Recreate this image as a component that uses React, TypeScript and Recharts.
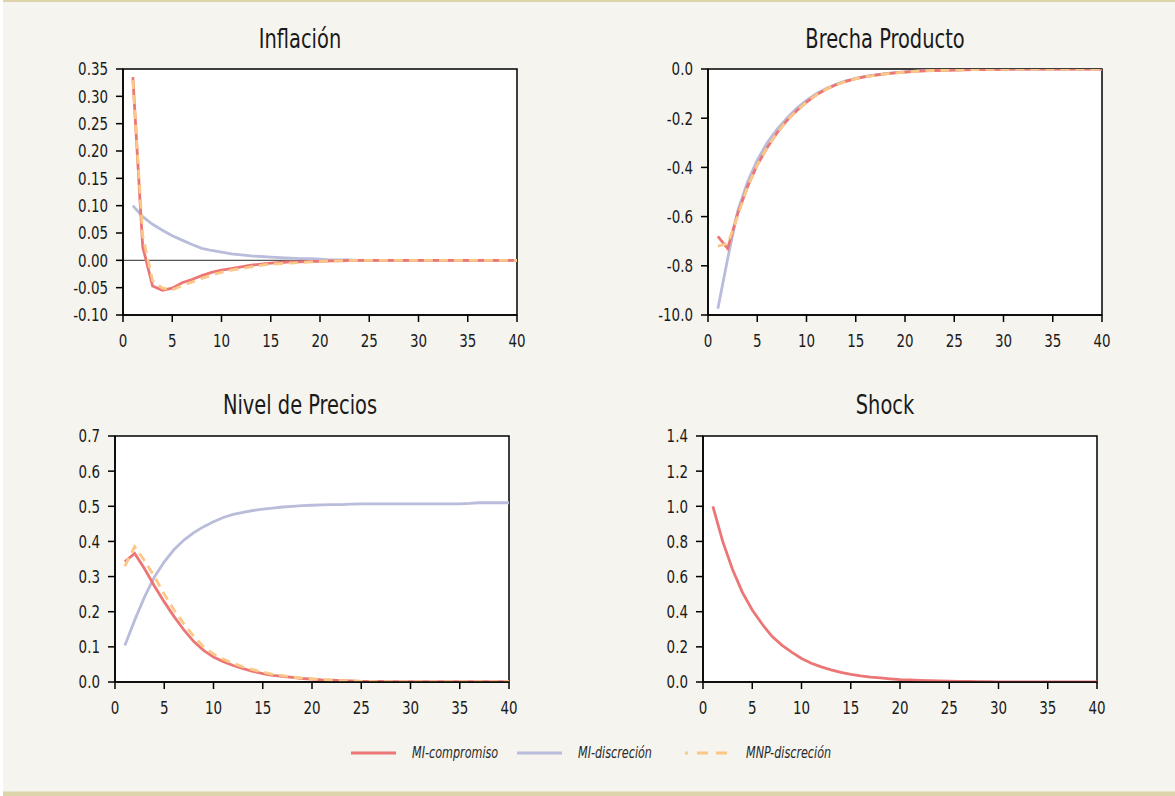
import React from 'react';
import { LineChart, Line, XAxis, YAxis, CartesianGrid, ReferenceLine, ReferenceArea } from 'recharts';

const FONT = "'DejaVu Sans Condensed', 'Noto Sans', sans-serif";
const RED = '#ec7676';
const BLUE = '#b9bcda';
const ORANGE = '#fbc887';
const SQUEEZE = 0.83;

// periods 1..40
const periods = [
  1, 2, 3, 4, 5, 6, 7, 8, 9, 10, 11, 12, 13, 14, 15, 16, 17, 18, 19, 20,
  21, 22, 23, 24, 25, 26, 27, 28, 29, 30, 31, 32, 33, 34, 35, 36, 37, 38, 39, 40,
];
const xTicks = [0, 5, 10, 15, 20, 25, 30, 35, 40];

// Inflación
const inflComp = [
  0.335, 0.025, -0.047, -0.055, -0.051, -0.041, -0.035, -0.028, -0.022, -0.018,
  -0.015, -0.012, -0.009, -0.007, -0.005, -0.004, -0.003, -0.003, -0.002, -0.002,
  -0.001, -0.001, 0, 0, 0, 0, 0, 0, 0, 0,
  0, 0, 0, 0, 0, 0, 0, 0, 0, 0,
];
const inflDisc = [
  0.1, 0.08, 0.066, 0.055, 0.045, 0.037, 0.029, 0.022, 0.018, 0.015,
  0.012, 0.01, 0.008, 0.007, 0.006, 0.005, 0.004, 0.003, 0.003, 0.002,
  0.001, 0.001, 0.001, 0, 0, 0, 0, 0, 0, 0,
  0, 0, 0, 0, 0, 0, 0, 0, 0, 0,
];
const inflMnp = [
  0.33, 0.045, -0.037, -0.051, -0.054, -0.046, -0.04, -0.033, -0.027, -0.022,
  -0.018, -0.015, -0.012, -0.009, -0.007, -0.006, -0.005, -0.004, -0.003, -0.002,
  -0.001, -0.001, 0, 0, 0, 0, 0, 0, 0, 0,
  0, 0, 0, 0, 0, 0, 0, 0, 0, 0,
];
const inflTicks = [-0.1, -0.05, 0, 0.05, 0.1, 0.15, 0.2, 0.25, 0.3, 0.35];

// Brecha Producto
const brechaComp = [
  -0.68, -0.73, -0.59, -0.48, -0.39, -0.32, -0.26, -0.21, -0.17, -0.135,
  -0.105, -0.082, -0.064, -0.05, -0.039, -0.031, -0.025, -0.02, -0.016, -0.013,
  -0.01, -0.008, -0.006, -0.005, -0.004, -0.003, -0.002, -0.002, -0.001, -0.001,
  0, 0, 0, 0, 0, 0, 0, 0, 0, 0,
];
const brechaDisc = [
  -0.975, -0.77, -0.58, -0.46, -0.37, -0.3, -0.245, -0.2, -0.16, -0.128,
  -0.1, -0.079, -0.062, -0.048, -0.038, -0.03, -0.024, -0.019, -0.015, -0.012,
  -0.009, -0.007, -0.005, -0.004, -0.003, -0.002, -0.002, -0.001, -0.001, -0.001,
  0, 0, 0, 0, 0, 0, 0, 0, 0, 0,
];
const brechaMnp = [
  -0.72, -0.71, -0.6, -0.48, -0.39, -0.32, -0.26, -0.21, -0.17, -0.135,
  -0.105, -0.082, -0.064, -0.05, -0.039, -0.031, -0.025, -0.02, -0.016, -0.013,
  -0.01, -0.008, -0.006, -0.005, -0.004, -0.003, -0.002, -0.002, -0.001, -0.001,
  0, 0, 0, 0, 0, 0, 0, 0, 0, 0,
];
const brechaTicks = [-1, -0.8, -0.6, -0.4, -0.2, 0];
const brechaLabels = ['-10.0', '-0.8', '-0.6', '-0.4', '-0.2', '0.0'];

// Nivel de Precios
const preciosComp = [
  0.342, 0.366, 0.322, 0.273, 0.228, 0.186, 0.148, 0.115, 0.09, 0.071,
  0.058, 0.047, 0.038, 0.03, 0.024, 0.019, 0.016, 0.013, 0.01, 0.008,
  0.006, 0.005, 0.004, 0.003, 0.002, 0.002, 0.002, 0.001, 0.001, 0.001,
  0.001, 0.001, 0.001, 0.001, 0.001, 0.001, 0.001, 0.001, 0.001, 0.001,
];
const preciosDisc = [
  0.104, 0.176, 0.242, 0.299, 0.342, 0.377, 0.404, 0.425, 0.442, 0.456,
  0.468, 0.477, 0.483, 0.488, 0.492, 0.495, 0.498, 0.5, 0.502, 0.503,
  0.504, 0.505, 0.505, 0.506, 0.507, 0.507, 0.507, 0.507, 0.507, 0.507,
  0.507, 0.507, 0.507, 0.507, 0.507, 0.508, 0.51, 0.51, 0.51, 0.51,
];
const preciosMnp = [
  0.33, 0.385, 0.345, 0.3, 0.25, 0.205, 0.165, 0.13, 0.1, 0.08,
  0.065, 0.053, 0.043, 0.035, 0.028, 0.022, 0.018, 0.014, 0.011, 0.009,
  0.007, 0.005, 0.004, 0.003, 0.002, 0.002, 0.001, 0.001, 0.001, 0.001,
  0.001, 0.001, 0.001, 0.001, 0.001, 0.001, 0.001, 0.001, 0.001, 0.001,
];
const preciosTicks = [0, 0.1, 0.2, 0.3, 0.4, 0.5, 0.6, 0.7];

// Shock
const shockComp = [
  1.0, 0.8, 0.64, 0.51, 0.41, 0.33, 0.26, 0.21, 0.17, 0.134,
  0.107, 0.086, 0.069, 0.055, 0.044, 0.035, 0.028, 0.023, 0.018, 0.014,
  0.012, 0.009, 0.007, 0.006, 0.005, 0.004, 0.003, 0.002, 0.002, 0.001,
  0, 0, 0, 0, 0, 0, 0, 0, 0, 0,
];
const shockTicks = [0, 0.2, 0.4, 0.6, 0.8, 1.0, 1.2, 1.4];

const seriesNames = ['MI-compromiso', 'MI-discreción', 'MNP-discreción'];

const PLOT_W = 394;
const PLOT_H = 246;
const PAD_L = 70;
const PAD_T = 10;
const PAD_R = 12;
const PAD_B = 42;

// narrow tick text: the original uses a condensed face
function NarrowTick(props: any) {
  const { x, y, payload, textAnchor, fmt, vertical } = props;
  const label = fmt ? fmt(payload.value) : String(payload.value);
  return (
    <text
      x={x}
      y={y}
      dy={vertical ? '0.355em' : '0.71em'}
      textAnchor={textAnchor}
      fontSize={18}
      fill="#1a1a1a"
      fontFamily={FONT}
      transform={`translate(${x},${y}) scale(${SQUEEZE},1) translate(${-x},${-y})`}
    >
      {label}
    </text>
  );
}

type PanelProps = {
  title: string;
  titleX: number;
  titleY: number;
  plotLeft: number;
  plotTop: number;
  comp: number[];
  disc?: number[];
  mnp?: number[];
  yTicks: number[];
  fmt: (v: number) => string;
  zeroLine?: boolean;
};

function Panel({ title, titleX, titleY, plotLeft, plotTop, comp, disc, mnp, yTicks, fmt, zeroLine }: PanelProps) {
  const rows = periods.map((t, i) => ({
    t,
    comp: comp[i],
    disc: disc ? disc[i] : null,
    mnp: mnp ? mnp[i] : null,
  }));
  const yMin = yTicks[0];
  const yMax = yTicks[yTicks.length - 1];
  return (
    <>
      <div
        style={{
          position: 'absolute',
          left: titleX - 150,
          top: titleY,
          width: 300,
          textAlign: 'center',
          fontSize: 26,
          color: '#1a1a1a',
          fontFamily: FONT,
          lineHeight: '30px',
          transform: `scaleX(${SQUEEZE})`,
        }}
      >
        {title}
      </div>
      <div style={{ position: 'absolute', left: plotLeft - PAD_L, top: plotTop - PAD_T }}>
        <LineChart
          width={PLOT_W + PAD_L + PAD_R}
          height={PLOT_H + PAD_T + PAD_B}
          data={rows}
          margin={{ top: PAD_T, right: PAD_R, bottom: PAD_B - 30, left: PAD_L - 60 }}
        >
          <CartesianGrid fill="#ffffff" stroke="#ffffff" vertical={false} horizontal={false} />
          <XAxis
            dataKey="t"
            type="number"
            domain={[0, 40]}
            ticks={xTicks}
            allowDataOverflow
            height={30}
            tickSize={7}
            tickMargin={12}
            stroke="#000"
            strokeWidth={1.5}
            tick={<NarrowTick />}
            interval={0}
          />
          <YAxis
            type="number"
            domain={[yMin, yMax]}
            ticks={yTicks}
            allowDataOverflow
            width={60}
            tickSize={7}
            tickMargin={8}
            stroke="#000"
            strokeWidth={1.5}
            tick={<NarrowTick fmt={fmt} vertical />}
            interval={0}
          />
          {zeroLine && <ReferenceLine y={0} stroke="#555" strokeWidth={1.2} />}
          {disc && (
            <Line type="linear" dataKey="disc" stroke={BLUE} strokeWidth={2.8} dot={false} isAnimationActive={false} />
          )}
          <Line type="linear" dataKey="comp" stroke={RED} strokeWidth={2.8} dot={false} isAnimationActive={false} />
          {mnp && (
            <Line
              type="linear"
              dataKey="mnp"
              stroke={ORANGE}
              strokeWidth={2.8}
              strokeDasharray="9 6"
              dot={false}
              isAnimationActive={false}
            />
          )}
          <ReferenceArea x1={0} x2={40} y1={yMin} y2={yMax} fill="none" stroke="#000" strokeWidth={1.5} ifOverflow="visible" />
        </LineChart>
      </div>
    </>
  );
}

function LegendItem({ x, color, dashed, label }: { x: number; color: string; dashed?: boolean; label: string }) {
  return (
    <div style={{ position: 'absolute', left: x, top: 742, height: 22, display: 'flex', alignItems: 'center' }}>
      <svg width={45} height={6} style={{ display: 'block' }}>
        <line x1={0} y1={3} x2={45} y2={3} stroke={color} strokeWidth={3} strokeDasharray={dashed ? '3 9 11 8 11 8' : undefined} />
      </svg>
      <span
        style={{
          marginLeft: 16,
          fontStyle: 'italic',
          fontSize: 15,
          color: '#2a2a2a',
          fontFamily: FONT,
          display: 'inline-block',
          transform: `scaleX(${SQUEEZE})`,
          transformOrigin: 'left center',
          whiteSpace: 'nowrap',
        }}
      >
        {label}
      </span>
    </div>
  );
}

export default function App() {
  return (
    <div
      style={{
        position: 'absolute',
        left: 0,
        top: 0,
        width: 1175,
        height: 796,
        background: '#ffffff',
        overflow: 'hidden',
      }}
    >
      <div style={{ position: 'absolute', left: 3, top: 0, width: 1172, height: 796, background: '#f5f4ef' }} />
      <div style={{ position: 'absolute', left: 3, top: 0, width: 1172, height: 2, background: '#ddd4aa' }} />
      <div style={{ position: 'absolute', left: 3, top: 791, width: 1172, height: 1, background: '#e8e2c8' }} />
      <div style={{ position: 'absolute', left: 3, top: 792, width: 1172, height: 4, background: '#ddd4aa' }} />

      <Panel
        title="Inflación"
        titleX={300}
        titleY={24}
        plotLeft={123}
        plotTop={69}
        comp={inflComp}
        disc={inflDisc}
        mnp={inflMnp}
        yTicks={inflTicks}
        fmt={(v) => v.toFixed(2)}
        zeroLine
      />
      <Panel
        title="Brecha Producto"
        titleX={885}
        titleY={24}
        plotLeft={708}
        plotTop={69}
        comp={brechaComp}
        disc={brechaDisc}
        mnp={brechaMnp}
        yTicks={brechaTicks}
        fmt={(v) => brechaLabels[brechaTicks.findIndex((t) => Math.abs(t - v) < 1e-9)] ?? v.toFixed(1)}
      />
      <Panel
        title="Nivel de Precios"
        titleX={300}
        titleY={390}
        plotLeft={115}
        plotTop={436}
        comp={preciosComp}
        disc={preciosDisc}
        mnp={preciosMnp}
        yTicks={preciosTicks}
        fmt={(v) => v.toFixed(1)}
      />
      <Panel
        title="Shock"
        titleX={885}
        titleY={390}
        plotLeft={703}
        plotTop={436}
        comp={shockComp}
        yTicks={shockTicks}
        fmt={(v) => v.toFixed(1)}
      />

      <LegendItem x={351} color={RED} label={seriesNames[0]} />
      <LegendItem x={517} color={BLUE} label={seriesNames[1]} />
      <LegendItem x={685} color={ORANGE} dashed label={seriesNames[2]} />
    </div>
  );
}
